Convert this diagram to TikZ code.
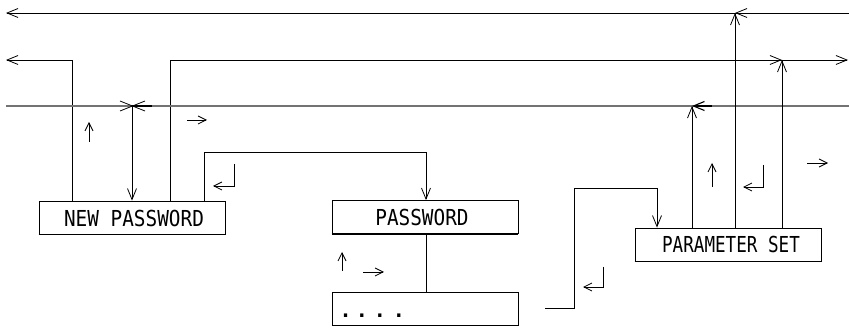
\documentclass[tikz,border=0pt]{standalone}
\usepackage{fontspec}
\usepackage{graphicx}
\setmainfont{DejaVu Sans Mono}
\usetikzlibrary{arrows.meta}
\begin{document}
\begin{tikzpicture}[x=1pt,y=-1pt, line width=0.8pt,
  arr/.style={-{Straight Barb[length=11pt,width=9pt]}},
  sarr/.style={-{Straight Barb[length=8pt,width=8pt]}},
  box/.style={draw, minimum width=186pt, minimum height=33pt, inner sep=0pt},
  lbl/.style={font=\fontsize{22}{22}\selectfont}]
\useasboundingbox (0,0) rectangle (849,328);
% boxes
\node[box] (np) at (132,217.5) {};
\draw[line width=1.4pt] (np.south west) -- (np.south east);
\node[lbl] at (134,218) {\scalebox{0.88}[1]{NEW PASSWORD}};
\node[box] (pw) at (425,217) {};
\draw[line width=1.4pt] (pw.south west) -- (pw.south east);
\node[lbl] at (422,217) {\scalebox{0.88}[1]{PASSWORD}};
\node[box] (dt) at (425,308.5) {};
\node[lbl,anchor=base west,font=\fontsize{20}{20}\selectfont\bfseries] at (336,318) {.\hspace{4pt}.\hspace{6pt}.\hspace{7pt}.};
\node[box] (ps) at (728,244.5) {};
\draw[line width=1.4pt] (ps.south west) -- (ps.south east);
\node[lbl] at (731,244) {\scalebox{0.8}[1]{PARAMETER SET}};
% bus lines
\draw[arr] (849,13) -- (6,13);
\draw[arr] (72,0 |- np.north) -- (72,60) -- (6,60);
\draw[arr] (170,0 |- np.north) -- (170,60) -- (848,60);
\draw[black!55,line width=1.1pt] (6,106) -- (849,106);
\draw (120,101) -- (145,111) (120,111) -- (145,101);
\draw[line width=1.1pt] (132,106) -- (152,106);
\draw[arr] (132,106) -- (132,0 |- np.north);
% connectors between boxes
\draw[arr] (204,0 |- np.north) -- (204,152) -- (426,152) -- (426,0 |- pw.north);
\draw (426,0 |- pw.south) -- (426,0 |- dt.north);
\draw[arr] (545,308) -- (574,308) -- (574,188) -- (657,188) -- (657,0 |- ps.north);
% parameter set up-lines
\draw[arr] (692,0 |- ps.north) -- (692,106);
\draw[arr,line width=1.1pt] (712,106) -- (692,106);
\draw[arr] (735,0 |- ps.north) -- (735,13);
\draw[arr] (755,13) -- (735,13);
\draw[arr] (782,0 |- ps.north) -- (782,60);
\draw[arr] (762,60) -- (782,60);
% small direction marks
\draw[sarr] (89,142) -- (89,122);
\draw[sarr] (187,120) -- (207,120);
\draw[sarr] (234,164) |- (213,186);
\draw[sarr] (342,271) -- (342,252);
\draw[sarr] (363,272) -- (384,272);
\draw[sarr] (603,267) |- (583,287);
\draw[sarr] (712,187) -- (712,163);
\draw[sarr] (763,165) |- (743,187);
\draw[sarr] (807,163) -- (828,163);
\end{tikzpicture}
\end{document}
